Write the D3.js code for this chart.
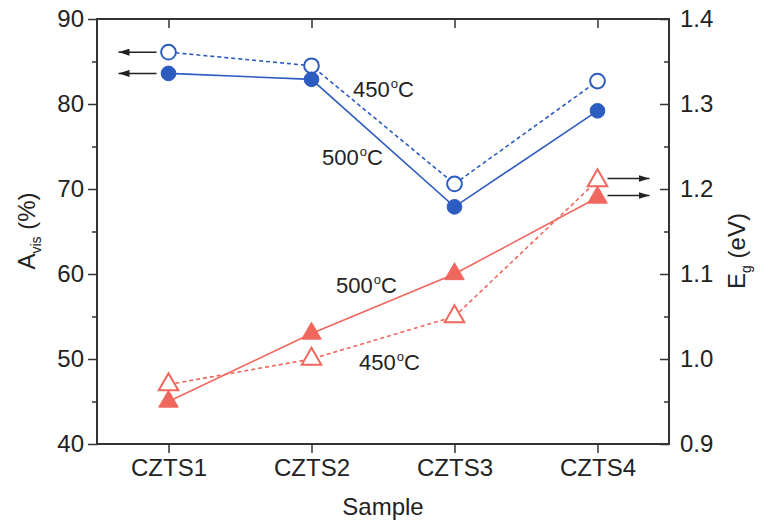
<!DOCTYPE html>
<html>
<head>
<meta charset="utf-8">
<script src="https://cdn.jsdelivr.net/npm/d3@7"></script>
<style>
  body { margin: 0; background: #fff; }
  svg { display: block; font-family: "Liberation Sans", Arial, sans-serif; }
  .axis path, .axis line { stroke: #333; }
  .axis text { fill: #222; font-size: 24px; }
</style>
</head>
<body>
<div id="chart"></div>
<script>
// Données
const samples = ["CZTS1", "CZTS2", "CZTS3", "CZTS4"];
const avis450 = [86.1, 84.5, 70.6, 82.7];   // A_vis (%) 450°C, cercles vides
const avis500 = [83.6, 82.9, 67.9, 79.2];   // A_vis (%) 500°C, cercles pleins
const eg450 = [0.97, 1.00, 1.05, 1.21];     // Eg (eV) 450°C, triangles vides
const eg500 = [0.95, 1.03, 1.10, 1.19];     // Eg (eV) 500°C, triangles pleins
const leftTicks = [40, 50, 60, 70, 80, 90];
const leftMinor = [45, 55, 65, 75, 85];
const rightTicks = [0.9, 1.0, 1.1, 1.2, 1.3, 1.4];
const rightMinor = [0.95, 1.05, 1.15, 1.25, 1.35];

const blue = "#2c5cc0", red = "#f0675e";

// Taille et marges
const margin = { top: 19, right: 94, bottom: 82, left: 97 },
    W = 763, H = 526,
    width = W - margin.left - margin.right,
    height = H - margin.top - margin.bottom;

const root = d3.select("#chart").append("svg")
    .attr("width", W)
    .attr("height", H);

// Flèche
root.append("defs").append("marker")
    .attr("id", "arrow")
    .attr("viewBox", "0 0 11 7")
    .attr("refX", 11).attr("refY", 3.5)
    .attr("markerWidth", 11).attr("markerHeight", 7)
    .attr("markerUnits", "userSpaceOnUse")
    .attr("orient", "auto")
    .append("path")
    .attr("d", "M0,0L11,3.5L0,7Z")
    .attr("fill", "#222");

const svg = root.append("g")
    .attr("transform", `translate(${margin.left},${margin.top})`);

const x = d3.scalePoint().domain(samples).range([0, width]).padding(0.5);
const yL = d3.scaleLinear().domain([40, 90]).range([height, 0]);
const yR = d3.scaleLinear().domain([0.9, 1.4]).range([height, 0]);

// Axes
svg.append("g").attr("class", "axis")
    .call(d3.axisLeft(yL).tickValues(leftTicks).tickSize(9).tickPadding(4));
svg.append("g").attr("class", "axis")
    .call(d3.axisLeft(yL).tickValues(leftMinor).tickSize(5).tickFormat(""));
svg.append("g").attr("class", "axis")
    .attr("transform", `translate(${width},0)`)
    .call(d3.axisRight(yR).tickValues(rightTicks).tickSize(-9).tickPadding(11).tickFormat(d3.format(".1f")));
svg.append("g").attr("class", "axis")
    .attr("transform", `translate(${width},0)`)
    .call(d3.axisRight(yR).tickValues(rightMinor).tickSize(-5).tickFormat(""));
svg.append("g").attr("class", "axis")
    .attr("transform", `translate(0,${height})`)
    .call(d3.axisBottom(x).tickSize(9).tickPadding(6));
svg.append("g").attr("class", "axis")
    .call(d3.axisTop(x).tickSize(-9).tickFormat(""));

svg.selectAll(".axis path.domain").remove();
svg.selectAll(".axis line").attr("stroke-width", 1.5);
svg.selectAll(".axis text").attr("font-family", "Liberation Sans, Arial, sans-serif");

svg.append("rect")
    .attr("width", width).attr("height", height)
    .attr("fill", "none").attr("stroke", "#333").attr("stroke-width", 2);

// Lignes
const lineL = d3.line().x((d, i) => x(samples[i])).y(d => yL(d));
const lineR = d3.line().x((d, i) => x(samples[i])).y(d => yR(d));

function drawSeries(vals, line, color, dashed) {
    svg.append("path")
        .datum(vals)
        .attr("d", line)
        .attr("fill", "none")
        .attr("stroke", color)
        .attr("stroke-width", 1.6)
        .attr("stroke-dasharray", dashed ? "4,3" : null);
}
drawSeries(avis450, lineL, blue, true);
drawSeries(avis500, lineL, blue, false);
drawSeries(eg450, lineR, red, true);
drawSeries(eg500, lineR, red, false);

// Points
const circ = d3.symbol().type(d3.symbolCircle).size(170);
const tri = d3.symbol().type(d3.symbolTriangle).size(165);

function drawPoints(vals, y, sym, color, filled) {
    svg.selectAll(null)
        .data(vals)
        .enter().append("path")
        .attr("d", sym)
        .attr("transform", (d, i) => `translate(${x(samples[i])},${y(d)})`)
        .attr("fill", filled ? color : "#fff")
        .attr("stroke", color)
        .attr("stroke-width", filled ? 1 : 2);
}
drawPoints(avis450, yL, circ, blue, false);
drawPoints(avis500, yL, circ, blue, true);
drawPoints(eg450, yR, tri, red, false);
drawPoints(eg500, yR, tri, red, true);

// Flèches vers les axes
function arrow(x1, x2, y) {
    svg.append("line")
        .attr("x1", x1).attr("x2", x2)
        .attr("y1", y).attr("y2", y)
        .attr("stroke", "#222").attr("stroke-width", 1.5)
        .attr("marker-end", "url(#arrow)");
}
const x0 = x(samples[0]), x3 = x(samples[3]);
arrow(x0 - 12, x0 - 50, yL(avis450[0]));
arrow(x0 - 12, x0 - 50, yL(avis500[0]));
arrow(x3 + 10, x3 + 52, yR(eg450[3]) - 2);
arrow(x3 + 10, x3 + 52, yR(eg500[3]) - 2);

// Annotations (température avec "o" en exposant)
const notes = [
    { t: "450", x: 256, y: 78 },
    { t: "500", x: 225, y: 146 },
    { t: "500", x: 239, y: 274 },
    { t: "450", x: 262, y: 351 }
];
const note = svg.selectAll(".note")
    .data(notes)
    .enter().append("text")
    .attr("class", "note")
    .attr("x", d => d.x)
    .attr("y", d => d.y)
    .attr("font-size", 22)
    .attr("fill", "#222");
note.append("tspan").text(d => d.t);
note.append("tspan").attr("font-size", 13).attr("dy", -9).attr("dx", 1).text("o");
note.append("tspan").attr("dy", 9).text("C");

// Titres des axes
root.append("text")
    .attr("x", margin.left + width / 2)
    .attr("y", 515)
    .attr("text-anchor", "middle")
    .attr("font-size", 24)
    .attr("fill", "#222")
    .text("Sample");

const tl = root.append("text")
    .attr("transform", "translate(35,231) rotate(-90)")
    .attr("text-anchor", "middle")
    .attr("font-size", 24)
    .attr("fill", "#222");
tl.append("tspan").text("A");
tl.append("tspan").attr("font-size", 14).attr("dy", 6).text("vis");
tl.append("tspan").attr("dy", -6).text(" (%)");

const tr = root.append("text")
    .attr("transform", "translate(745,251) rotate(-90)")
    .attr("text-anchor", "middle")
    .attr("font-size", 24)
    .attr("fill", "#222");
tr.append("tspan").text("E");
tr.append("tspan").attr("font-size", 14).attr("dy", 6).text("g");
tr.append("tspan").attr("dy", -6).text(" (eV)");
</script>
</body>
</html>
